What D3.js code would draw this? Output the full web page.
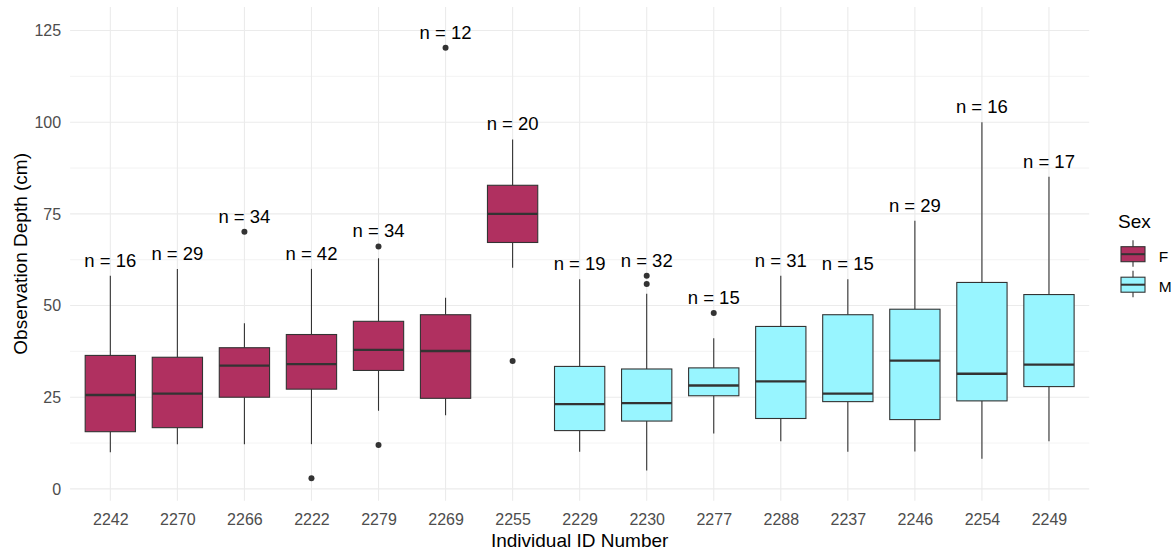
<!DOCTYPE html>
<html>
<head>
<meta charset="utf-8">
<script src="https://cdn.jsdelivr.net/npm/d3@7"></script>
<style>
  html, body { margin: 0; padding: 0; background: #ffffff; }
  svg { display: block; font-family: "Liberation Sans", Arial, sans-serif; }
</style>
</head>
<body>
<svg id="chart" width="1171" height="550"></svg>
<script>
// Observation depth per individual, summarised as box plots
const ids         = ["2242","2270","2266","2222","2279","2269","2255","2229","2230","2277","2288","2237","2246","2254","2249"];
const sex         = ["F","F","F","F","F","F","F","M","M","M","M","M","M","M","M"];
const counts      = [16, 29, 34, 42, 34, 12, 20, 19, 32, 15, 31, 15, 29, 16, 17];
const whiskerLow  = [10.0, 12.2, 12.2, 12.2, 21.3, 20.1, 60.3, 10.1, 5.0, 15.1, 13.0, 10.1, 10.2, 8.2, 13.0];
const q1          = [15.6, 16.7, 25.0, 27.2, 32.3, 24.7, 67.2, 15.9, 18.5, 25.4, 19.2, 23.8, 18.9, 24.0, 27.9];
const medians     = [25.6, 26.0, 33.6, 34.0, 37.9, 37.6, 75.0, 23.1, 23.4, 28.2, 29.3, 26.0, 35.0, 31.4, 33.9];
const q3          = [36.4, 35.9, 38.5, 42.1, 45.7, 47.5, 82.8, 33.4, 32.7, 33.0, 44.3, 47.5, 49.0, 56.3, 53.0];
const whiskerHigh = [58.1, 60.0, 45.2, 60.0, 62.9, 52.1, 95.3, 57.2, 53.2, 41.1, 58.1, 57.2, 73.1, 100.0, 85.1];
const outliers    = [[], [], [70.1], [2.9], [66.1, 12.0], [120.3], [34.9], [], [58.1, 55.9], [48.0], [], [], [], [], []];
const yTicks      = [0, 25, 50, 75, 100, 125];
const yMinorTicks = [12.5, 37.5, 62.5, 87.5, 112.5];
const sexLevels   = ["F", "M"];
const sexColours  = ["#B03060", "#98F5FF"];

const labelOffset = 4.3;   // n-labels sit just above the highest point of each group

const boxes = ids.map((id, i) => ({
  id, sex: sex[i], n: counts[i],
  lo: whiskerLow[i], q1: q1[i], med: medians[i], q3: q3[i], hi: whiskerHigh[i],
  out: outliers[i],
  top: Math.max(whiskerHigh[i], ...outliers[i])
}));

const svg = d3.select("#chart");
const panel = { left: 70.1, right: 1089.2, top: 7, bottom: 500.7 };

// y range: data plus label positions, expanded by 5% on each side
const dataMin = d3.min(boxes, b => Math.min(b.lo, ...b.out));
const dataMax = d3.max(boxes, b => b.top + labelOffset + 0.7);
const span = dataMax - dataMin;

const x = d3.scalePoint().domain(ids).range([panel.left, panel.right]).padding(0.6);
const y = d3.scaleLinear().domain([dataMin - 0.05 * span, dataMax + 0.05 * span]).range([panel.bottom, panel.top]);
const fill = d3.scaleOrdinal().domain(sexLevels).range(sexColours);
const boxW = x.step() * 0.75;

// grid
const grid = svg.append("g");
grid.selectAll("line.minor").data(yMinorTicks).join("line")
  .attr("x1", panel.left).attr("x2", panel.right)
  .attr("y1", d => y(d)).attr("y2", d => y(d))
  .attr("stroke", "#EBEBEB").attr("stroke-width", 0.6);
grid.selectAll("line.majorY").data(yTicks).join("line")
  .attr("x1", panel.left).attr("x2", panel.right)
  .attr("y1", d => y(d)).attr("y2", d => y(d))
  .attr("stroke", "#EBEBEB").attr("stroke-width", 1.1);
grid.selectAll("line.majorX").data(ids).join("line")
  .attr("x1", d => x(d)).attr("x2", d => x(d))
  .attr("y1", panel.top).attr("y2", panel.bottom)
  .attr("stroke", "#EBEBEB").attr("stroke-width", 1.1);

// axes (no axis lines or tick marks)
const yAxis = svg.append("g").attr("transform", `translate(${panel.left},0)`)
  .call(d3.axisLeft(y).tickValues(yTicks).tickSize(0).tickPadding(9));
const xAxis = svg.append("g").attr("transform", `translate(0,${panel.bottom})`)
  .call(d3.axisBottom(x).tickSize(0).tickPadding(13));
[yAxis, xAxis].forEach(a => {
  a.select(".domain").remove();
  a.selectAll("text").attr("fill", "#4D4D4D").style("font-size", "16px")
    .style("font-family", "'Liberation Sans', Arial, sans-serif");
});

// boxes
const g = svg.append("g").selectAll("g").data(boxes).join("g");
const ink = "#333333";
g.append("line")
  .attr("x1", d => x(d.id)).attr("x2", d => x(d.id))
  .attr("y1", d => y(d.hi)).attr("y2", d => y(d.q3))
  .attr("stroke", ink).attr("stroke-width", 1.1);
g.append("line")
  .attr("x1", d => x(d.id)).attr("x2", d => x(d.id))
  .attr("y1", d => y(d.q1)).attr("y2", d => y(d.lo))
  .attr("stroke", ink).attr("stroke-width", 1.1);
g.append("rect")
  .attr("x", d => x(d.id) - boxW / 2).attr("width", boxW)
  .attr("y", d => y(d.q3)).attr("height", d => y(d.q1) - y(d.q3))
  .attr("fill", d => fill(d.sex)).attr("stroke", ink).attr("stroke-width", 1.1);
g.append("line")
  .attr("x1", d => x(d.id) - boxW / 2).attr("x2", d => x(d.id) + boxW / 2)
  .attr("y1", d => y(d.med)).attr("y2", d => y(d.med))
  .attr("stroke", ink).attr("stroke-width", 2.3);
g.selectAll("circle").data(d => d.out.map(v => ({ id: d.id, v }))).join("circle")
  .attr("cx", d => x(d.id)).attr("cy", d => y(d.v)).attr("r", 3)
  .attr("fill", ink);

// sample size labels
svg.append("g").selectAll("text").data(boxes).join("text")
  .attr("x", d => x(d.id)).attr("y", d => y(d.top + labelOffset))
  .attr("text-anchor", "middle").attr("dominant-baseline", "central")
  .style("font-size", "18.5px").attr("fill", "#000000")
  .text(d => `n = ${d.n}`);

// axis titles
svg.append("text")
  .attr("x", (panel.left + panel.right) / 2).attr("y", 540)
  .attr("text-anchor", "middle").attr("dominant-baseline", "central")
  .style("font-size", "19px").attr("fill", "#000000")
  .text("Individual ID Number");
svg.append("text")
  .attr("transform", `translate(20,${(panel.top + panel.bottom) / 2}) rotate(-90)`)
  .attr("text-anchor", "middle").attr("dominant-baseline", "central")
  .style("font-size", "19px").attr("fill", "#000000")
  .text("Observation Depth (cm)");

// legend
const legend = svg.append("g").attr("transform", "translate(1118,0)");
legend.append("text").attr("x", 0).attr("y", 221)
  .attr("dominant-baseline", "central").style("font-size", "19px").attr("fill", "#000000")
  .text("Sex");
const keys = legend.selectAll("g.key").data(sexLevels).join("g")
  .attr("transform", (d, i) => `translate(15,${254.2 + i * 30.5})`);
keys.append("line").attr("x1", 0).attr("x2", 0).attr("y1", -14).attr("y2", 12.5)
  .attr("stroke", ink).attr("stroke-width", 1.1);
keys.append("rect").attr("x", -12).attr("y", -7.5).attr("width", 24).attr("height", 15)
  .attr("fill", d => fill(d)).attr("stroke", ink).attr("stroke-width", 1.1);
keys.append("line").attr("x1", -12).attr("x2", 12).attr("y1", 0).attr("y2", 0)
  .attr("stroke", ink).attr("stroke-width", 2);
keys.append("text").attr("x", 25.7).attr("y", 2)
  .attr("dominant-baseline", "central").style("font-size", "15.5px").attr("fill", "#000000")
  .text(d => d);
</script>
</body>
</html>
